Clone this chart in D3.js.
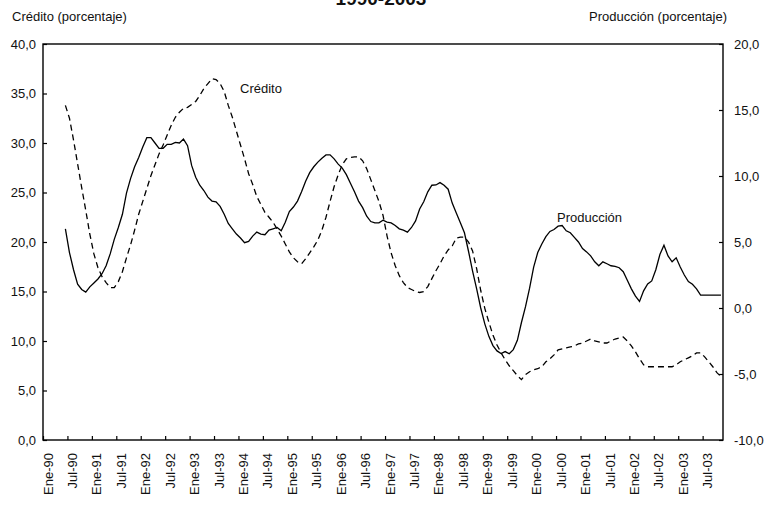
<!DOCTYPE html>
<html lang="es">
	<head>
		<meta charset="utf-8">
		<title>Crédito y producción 1990-2003</title>
		<script type="text/javascript" src="https://cdn.jsdelivr.net/npm/d3@7"></script>
		<style type="text/css">
			body { margin: 0; background: #fff; }
			svg text {
				font-family: "Liberation Sans", Arial, Helvetica, sans-serif;
				font-size: 13px;
				fill: #111;
			}
			.Axis path { display: none; }
			.Axis line { stroke: #000; stroke-width: 1.2; }
		</style>
	</head>
	<body>
		<script type="text/javascript">

			//Width and height
			var w = 765;
			var h = 510;
			var plotLeft = 43, plotRight = 723, plotTop = 44, plotBottom = 440;

			//Monthly series, first value is Jun-90 (month index 5 counted from Ene-90)
			var firstMonth = 5;
			var nMonths = 167;	//Ene-90 .. Nov-03

			var credito = [
				33.8,32.5,30.3,27.9,25.5,23.2,20.8,18.8,17.4,16.5,
				15.9,15.4,15.4,16.0,17.0,18.4,19.7,21.2,22.8,24.1,
				25.4,26.7,27.8,28.9,29.8,30.8,31.8,32.6,33.1,33.5,
				33.6,33.9,34.2,34.8,35.5,36.0,36.5,36.4,36.0,35.2,
				33.8,32.6,31.2,29.8,28.4,26.9,25.8,24.6,23.8,23.0,
				22.5,22.0,21.3,20.6,19.8,19.0,18.4,18.0,17.8,18.3,
				18.9,19.5,20.2,21.2,22.5,24.1,25.6,26.8,27.8,28.4,
				28.55,28.6,28.6,28.2,27.4,26.3,25.2,24.1,22.7,20.6,
				18.9,17.6,16.6,15.9,15.4,15.2,15.0,14.9,15.0,15.5,
				16.3,17.1,17.8,18.6,19.2,19.6,20.4,20.5,20.5,20.0,
				19.1,17.3,15.1,13.3,11.9,10.6,9.6,8.8,8.1,7.5,
				7.0,6.5,6.1,6.6,6.9,7.1,7.2,7.4,7.9,8.2,
				8.6,9.1,9.2,9.3,9.4,9.5,9.7,9.8,10.0,10.2,
				10.0,9.9,9.8,9.8,10.0,10.2,10.3,10.4,10.0,9.5,
				8.9,8.2,7.6,7.4,7.4,7.4,7.4,7.4,7.4,7.4,
				7.6,7.9,8.1,8.3,8.5,8.8,8.8,8.4,7.9,7.4,
				6.8,6.4
			];

			var produccion = [
				6.0,4.2,2.9,1.8,1.4,1.2,1.6,1.9,2.2,2.6,
				3.2,4.1,5.2,6.1,7.1,8.7,9.8,10.7,11.4,12.2,
				12.9,12.9,12.5,12.1,12.1,12.4,12.4,12.55,12.5,12.8,
				12.3,10.8,9.9,9.3,8.9,8.4,8.1,8.05,7.7,7.1,
				6.4,6.0,5.6,5.3,4.95,5.05,5.45,5.75,5.6,5.55,
				5.9,6.0,6.1,5.85,6.5,7.3,7.65,8.1,8.8,9.6,
				10.25,10.7,11.05,11.35,11.6,11.6,11.3,10.9,10.6,10.1,
				9.45,8.8,8.1,7.6,6.95,6.55,6.45,6.45,6.65,6.5,
				6.45,6.25,6.0,5.9,5.75,6.1,6.6,7.5,8.05,8.8,
				9.3,9.32,9.5,9.3,9.0,7.95,7.2,6.45,5.7,4.3,
				2.8,1.45,0.0,-1.2,-2.15,-2.85,-3.25,-3.45,-3.3,-3.47,
				-3.15,-2.45,-1.1,0.1,1.5,3.1,4.2,4.85,5.4,5.8,
				5.95,6.2,6.25,5.85,5.7,5.35,5.0,4.5,4.25,3.95,
				3.5,3.2,3.5,3.35,3.2,3.15,3.05,2.75,2.1,1.45,
				0.9,0.5,1.3,1.82,2.05,2.9,4.05,4.75,3.94,3.5,
				3.8,3.1,2.5,2.0,1.8,1.45,0.98,0.98,0.98,0.98,
				0.98,0.98
			];

			var xLabels = ["Ene-90","Jul-90","Ene-91","Jul-91","Ene-92","Jul-92","Ene-93","Jul-93",
				"Ene-94","Jul-94","Ene-95","Jul-95","Ene-96","Jul-96","Ene-97","Jul-97",
				"Ene-98","Jul-98","Ene-99","Jul-99","Ene-00","Jul-00","Ene-01","Jul-01",
				"Ene-02","Jul-02","Ene-03","Jul-03"];
			var leftTicks = [0, 5, 10, 15, 20, 25, 30, 35, 40];
			var rightTicks = [-10, -5, 0, 5, 10, 15, 20];

			//Scales
			var xScale = d3.scaleLinear().domain([0, nMonths]).range([plotLeft, plotRight]);
			var yLeft = d3.scaleLinear().domain([0, 40]).range([plotBottom, plotTop]);
			var yRight = d3.scaleLinear().domain([-10, 20]).range([plotBottom, plotTop]);

			var fmt = function(d) { return d3.format(".1f")(d).replace(".", ",").replace("−", "-"); };

			var svg = d3.select("body")
						.append("svg")
						.attr("width", w)
						.attr("height", h);

			//Title, mostly cut off at the top
			svg.append("text")
			   .attr("x", 381)
			   .attr("y", 4.5)
			   .attr("text-anchor", "middle")
			   .style("font-size", "19px")
			   .style("font-weight", "bold")
			   .text("1990-2003");

			//Axis titles
			svg.append("text").attr("x", 12).attr("y", 21).style("font-size", "13px").text("Crédito (porcentaje)");
			svg.append("text").attr("x", 727).attr("y", 21).attr("text-anchor", "end").style("font-size", "13px").text("Producción (porcentaje)");

			//Axes
			var yAxisL = d3.axisLeft(yLeft).tickValues(leftTicks).tickFormat(fmt).tickSizeInner(-4).tickSizeOuter(0).tickPadding(7);
			var yAxisR = d3.axisRight(yRight).tickValues(rightTicks).tickFormat(fmt).tickSizeInner(-4).tickSizeOuter(0).tickPadding(11);
			var xAxis = d3.axisBottom(xScale).tickValues(d3.range(0, nMonths, 6)).tickFormat("").tickSizeInner(-4).tickSizeOuter(0);

			svg.append("g").classed("Axis", true).attr("transform", `translate(${plotLeft},0)`).call(yAxisL);
			svg.append("g").classed("Axis", true).attr("transform", `translate(${plotRight},0)`).call(yAxisR);
			svg.append("g").classed("Axis", true).attr("transform", `translate(0,${plotBottom})`).call(xAxis);
			svg.selectAll(".Axis text").style("font-size", "13px").attr("fill", "#111");

			//Rotated month labels, one per half year, centred on the month
			svg.append("g")
			   .selectAll("text")
			   .data(xLabels)
			   .enter()
			   .append("text")
			   .attr("transform", function(d, i) {
			   		return "translate(" + (xScale(i * 6 + 0.5) + 3) + "," + (plotBottom + 13) + ") rotate(-90)";
			   })
			   .attr("dy", "0.35em")
			   .attr("text-anchor", "end")
			   .text(function(d) { return d; });

			//Plot frame
			svg.append("rect")
			   .attr("x", plotLeft).attr("y", plotTop)
			   .attr("width", plotRight - plotLeft).attr("height", plotBottom - plotTop)
			   .attr("fill", "none").attr("stroke", "#000").attr("stroke-width", 1.4);

			//Lines
			var lineL = d3.line()
			              .x(function(d, i) { return xScale(firstMonth + i + 0.5); })
			              .y(function(d) { return yLeft(d); });
			var lineR = d3.line()
			              .x(function(d, i) { return xScale(firstMonth + i + 0.5); })
			              .y(function(d) { return yRight(d); });

			svg.append("path")
			   .datum(credito)
			   .attr("d", lineL)
			   .attr("fill", "none")
			   .attr("stroke", "#000")
			   .attr("stroke-width", 1.3)
			   .attr("stroke-dasharray", "6,4");

			svg.append("path")
			   .datum(produccion)
			   .attr("d", lineR)
			   .attr("fill", "none")
			   .attr("stroke", "#000")
			   .attr("stroke-width", 1.3);

			//Series labels
			svg.append("text").attr("x", 240).attr("y", 93).text("Crédito");
			svg.append("text").attr("x", 557).attr("y", 222).text("Producción");

		</script>
	</body>
</html>
